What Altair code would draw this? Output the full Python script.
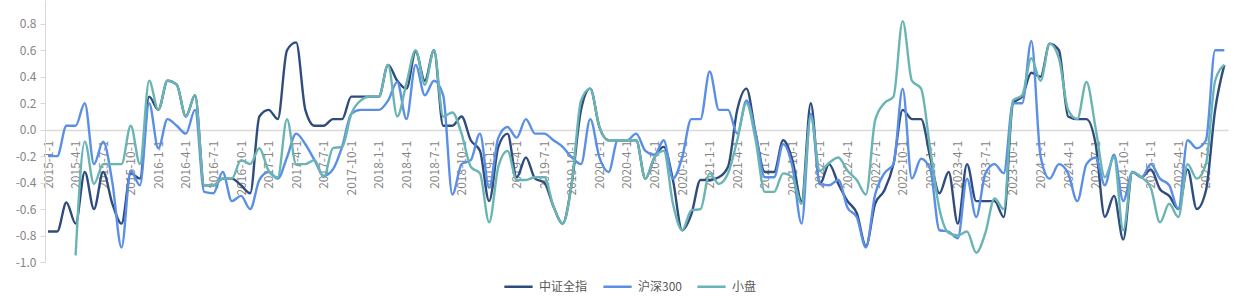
import altair as alt
import pandas as pd

series_names = ["中证全指", "沪深300", "小盘"]
start_year = 2015
start_month = 1

zz_all = [
    -0.77, -0.77, -0.55, -0.71, -0.32, -0.60, -0.32, -0.56, -0.71, -0.33,
    -0.37, 0.25, 0.15, 0.37, 0.34, 0.10, 0.26, -0.42, -0.42, -0.37,
    -0.37, -0.42, -0.48, 0.10, 0.15, 0.08, 0.60, 0.66, 0.15, 0.03,
    0.03, 0.08, 0.08, 0.25, 0.25, 0.25, 0.25, 0.49, 0.37, 0.31,
    0.59, 0.37, 0.60, 0.03, 0.03, 0.10, -0.08, -0.16, -0.54, -0.13,
    -0.03, -0.36, -0.21, -0.37, -0.40, -0.58, -0.71, -0.40, 0.15, 0.31,
    0.02, -0.08, -0.08, -0.08, -0.08, -0.37, -0.21, -0.13, -0.38, -0.76,
    -0.64, -0.38, -0.38, -0.36, -0.28, 0.15, 0.31, -0.03, -0.32, -0.32,
    -0.08, -0.23, -0.54, 0.20, -0.41, -0.26, -0.41, -0.54, -0.63, -0.88,
    -0.56, -0.46, -0.26, 0.15, 0.08, 0.08, -0.21, -0.48, -0.32, -0.71,
    -0.26, -0.54, -0.54, -0.54, -0.66, 0.20, 0.25, 0.43, 0.40, 0.65,
    0.60, 0.10, 0.08, 0.08, -0.11, -0.66, -0.50, -0.83, -0.32, -0.36,
    -0.30, -0.45, -0.50, -0.60, -0.30, -0.60, -0.46, 0.15, 0.49,
]

hs300 = [
    -0.20, -0.20, 0.03, 0.03, 0.20, -0.26, -0.09, -0.40, -0.89, -0.31,
    -0.42, 0.20, -0.14, 0.08, 0.03, -0.03, 0.15, -0.47, -0.48, -0.32,
    -0.54, -0.50, -0.60, -0.38, -0.32, -0.37, -0.21, -0.03, -0.11, -0.23,
    -0.35, -0.30, -0.13, 0.12, 0.15, 0.15, 0.15, 0.22, 0.36, 0.08,
    0.49, 0.26, 0.37, 0.26, -0.49, -0.26, -0.23, -0.03, -0.44, -0.06,
    0.02, -0.06, 0.08, -0.03, -0.03, -0.08, -0.13, -0.21, -0.26, 0.08,
    -0.21, -0.32, -0.08, -0.08, -0.03, -0.16, -0.19, -0.08, -0.37, -0.21,
    0.08, 0.08, 0.44, 0.15, 0.15, -0.03, 0.22, -0.03, -0.36, -0.36,
    -0.11, -0.28, -0.71, 0.12, -0.41, -0.42, -0.38, -0.59, -0.66, -0.89,
    -0.49, -0.33, -0.26, 0.31, -0.37, -0.22, -0.30, -0.76, -0.77, -0.82,
    -0.37, -0.66, -0.33, -0.26, -0.33, 0.20, 0.20, 0.67, -0.20, -0.37,
    -0.26, -0.33, -0.54, -0.26, -0.21, -0.42, -0.19, -0.54, -0.32, -0.36,
    -0.26, -0.37, -0.42, -0.60, -0.08, -0.14, -0.08, 0.60, 0.60,
]

small = [
    None, None, None, -0.95, -0.09, -0.41, -0.26, -0.26, -0.26, 0.03,
    -0.26, 0.37, 0.15, 0.37, 0.34, 0.10, 0.26, -0.42, -0.42, -0.37,
    -0.37, -0.23, -0.26, -0.14, -0.31, -0.36, 0.08, -0.26, -0.26, -0.23,
    -0.36, -0.14, -0.13, 0.12, 0.22, 0.25, 0.25, 0.49, 0.10, 0.35,
    0.60, 0.34, 0.60, 0.10, 0.13, -0.03, -0.28, -0.33, -0.70, -0.28,
    -0.16, -0.38, -0.38, -0.36, -0.36, -0.58, -0.71, -0.40, 0.22, 0.31,
    0.02, -0.08, -0.08, -0.08, -0.08, -0.37, -0.21, -0.16, -0.56, -0.76,
    -0.61, -0.60, -0.33, -0.41, -0.33, -0.08, 0.20, -0.08, -0.47, -0.47,
    -0.33, -0.36, -0.56, 0.10, -0.31, -0.25, -0.21, -0.31, -0.38, -0.49,
    0.07, 0.20, 0.25, 0.82, 0.37, 0.31, -0.15, -0.60, -0.78, -0.80,
    -0.77, -0.93, -0.78, -0.52, -0.60, 0.22, 0.26, 0.54, 0.37, 0.65,
    0.54, 0.15, 0.08, 0.36, 0.01, -0.36, -0.21, -0.76, -0.32, -0.36,
    -0.44, -0.70, -0.56, -0.66, -0.26, -0.37, -0.26, 0.37, 0.49,
]

y_ticks = [1.0, 0.8, 0.6, 0.4, 0.2, 0.0, -0.2, -0.4, -0.6, -0.8, -1.0]
x_tick_months = list(range(0, 127, 3))

colors = ["#2F4C7E", "#5B8FE6", "#6AB4B4"]

rows = []
for name, vals in zip(series_names, [zz_all, hs300, small]):
    for i, v in enumerate(vals):
        if v is not None:
            rows.append({"m": i, "series": name, "value": v})
df = pd.DataFrame(rows)

label_expr = (
    f"({start_year} + floor(datum.value / 12)) + '-' + "
    "((datum.value % 12) + 1) + '-1'"
)

chart = (
    alt.Chart(df)
    .mark_line(strokeWidth=2.4, interpolate="monotone")
    .encode(
        x=alt.X(
            "m:Q",
            scale=alt.Scale(domain=[-0.33, 128.4], nice=False, zero=False),
            axis=alt.Axis(
                values=x_tick_months,
                labelExpr=label_expr,
                labelAngle=270,
                labelAlign="right",
                labelBaseline="middle",
                labelPadding=10,
                ticks=False,
                tickSize=0,
                grid=False,
                domainColor="#d9d9d9",
                domainWidth=1.5,
                labelColor="#858585",
                labelFontSize=12,
                labelFont="Noto Sans CJK SC",
                labelOverlap=False,
                offset=-132,
                title=None,
            ),
        ),
        y=alt.Y(
            "value:Q",
            scale=alt.Scale(domain=[-1.0, 0.98], nice=False, zero=False),
            axis=alt.Axis(
                values=y_ticks,
                labelExpr="replace(format(datum.value, '.1f'), '\u2212', '-')",
                grid=False,
                domainColor="#d9d9d9",
                tickColor="#d9d9d9",
                tickSize=5,
                labelPadding=4,
                labelColor="#858585",
                labelFontSize=12,
                labelFont="Noto Sans CJK SC",
                title=None,
            ),
        ),
        color=alt.Color(
            "series:N",
            scale=alt.Scale(domain=series_names, range=colors),
            sort=series_names,
            legend=alt.Legend(
                orient="none",
                legendX=458,
                legendY=271,
                direction="horizontal",
                title=None,
                symbolType="stroke",
                symbolSize=800,
                symbolStrokeWidth=2.5,
                labelFontSize=12,
                labelFont="Noto Sans CJK SC",
                labelColor="#595959",
                labelOffset=5,
                columnPadding=10,
            ),
        ),
        order=alt.Order("m:Q"),
    )
    .properties(
        width=1183,
        height=262,
        autosize=alt.AutoSizeParams(type="none"),
        padding={"left": 45, "top": 0, "right": 14, "bottom": 38},
    )
    .configure_view(stroke=None)
)

chart.save("out.html", embed_options={"renderer": "svg", "actions": False})
